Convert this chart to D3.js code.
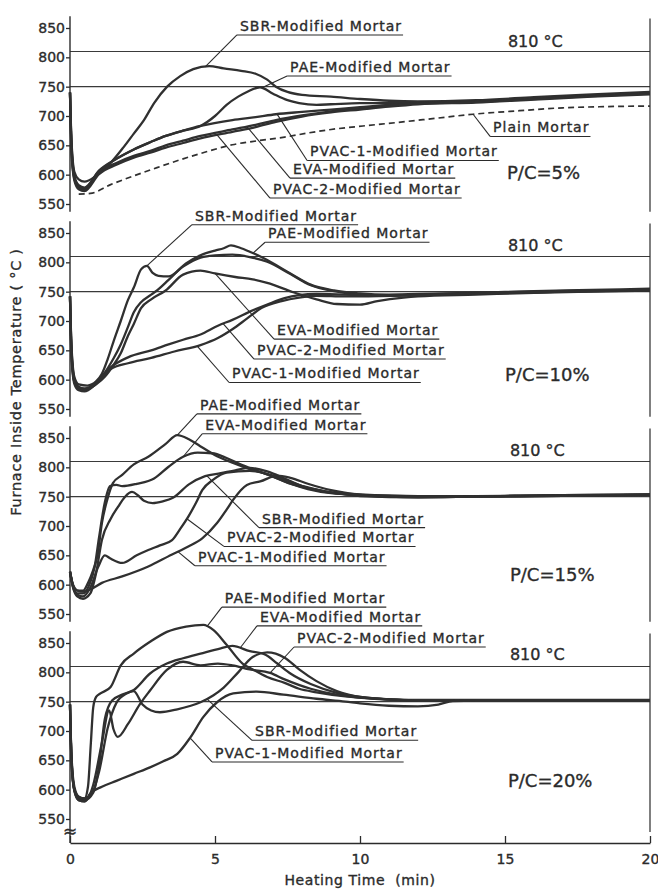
<!DOCTYPE html>
<html><head><meta charset="utf-8">
<script src="https://cdn.jsdelivr.net/npm/d3@7"></script>
<style>
body{margin:0;background:#fff;}
svg{display:block;font-family:"DejaVu Sans",sans-serif;}
svg text{stroke:#2b2b2b;stroke-width:0.35px;}
</style></head><body>
<svg id="chart" width="658" height="890"></svg>
<script>
// ---------- DATA ----------
const timeTicks = [0, 5, 10, 15, 20];
const tempTicks = [550, 600, 650, 700, 750, 800, 850];
const refLines = [810, 750];
const refLabel = "810 °C";
const ratioLabels = ["P/C=5%", "P/C=10%", "P/C=15%", "P/C=20%"];
const xTitle = "Heating Time  (min)";
const yTitle = "Furnace Inside Temperature ( °C )";

// P/C = 5 %  [time (min), temperature (°C)]
const sbr5 = [[0,740],[0.05,660],[0.15,605],[0.3,592],[0.5,588],[0.9,598],[1.4,620],[1.85,647],[2.2,670],[2.55,693],[2.9,722],[3.35,750],[3.8,768],[4.25,780],[4.8,785],[5.3,781],[5.9,777],[6.4,772],[6.8,762],[7.1,750],[7.5,741],[8.0,736],[9.0,733],[10,729],[11,726],[12,725],[14,727],[16,732],[18,737],[20,741]];
const pae5 = [[0,740],[0.05,655],[0.15,598],[0.3,582],[0.5,578],[1.0,606],[1.6,627],[2.2,643],[2.8,656],[3.3,666],[3.9,675],[4.5,683],[5.0,700],[5.4,719],[5.8,733],[6.1,741],[6.55,749],[7.0,738],[7.5,727],[7.9,722],[8.5,719],[9.0,720],[10,722],[12,722],[14,724],[16,730],[18,735],[20,739]];
const pvac1_5 = [[0,740],[0.05,650],[0.15,596],[0.3,580],[0.5,577],[1.0,607],[1.6,627],[2.2,643],[2.8,656],[3.3,666],[3.9,675],[4.5,683],[5.6,693],[6.4,698],[7.1,703],[8.0,707],[9.0,711],[10,715],[11,719],[12,722],[14,725],[16,730],[18,735],[20,739]];
const eva5 = [[0,740],[0.05,645],[0.15,593],[0.3,578],[0.5,574],[1.0,604],[1.6,620],[2.2,632],[2.8,641],[3.3,650],[3.9,658],[4.5,666],[5.6,677],[6.4,685],[7.1,693],[8.0,701],[9.0,708],[10,713],[11,718],[12,721],[14,724],[16,729],[18,734],[20,738]];
const pvac2_5 = [[0,740],[0.05,640],[0.15,590],[0.3,575],[0.5,572],[1.0,601],[1.6,617],[2.2,629],[2.8,638],[3.3,646],[3.9,654],[4.5,662],[5.6,673],[6.4,681],[7.1,690],[8.0,699],[9.0,706],[10,711],[11,716],[12,720],[14,723],[16,728],[18,733],[20,737]];
const plain5 = [[0.3,567],[0.7,568],[1.4,583],[2.2,598],[3.0,612],[3.9,627],[4.7,639],[5.6,651],[6.5,658],[7.4,664],[8.2,671],[9.0,677],[10.1,683],[11.3,689],[12.6,696],[13.9,703],[15.5,709],[17,714],[18.5,716],[20,717]];

// P/C = 10 %
const sbr10 = [[0,742],[0.05,660],[0.15,605],[0.3,592],[0.6,590],[0.9,597],[1.1,610],[1.3,635],[1.5,665],[1.75,700],[2.0,736],[2.2,757],[2.45,788],[2.65,794],[2.85,782],[3.05,777],[3.4,776],[3.9,793],[4.5,808],[5.0,812],[5.6,813],[6.2,809],[6.8,801],[7.6,780],[8.3,761],[9.1,751],[10,745],[11,743],[12,745],[14,748],[16,750],[18,752],[20,753]];
const pae10 = [[0,742],[0.05,655],[0.15,600],[0.3,588],[0.5,585],[0.9,595],[1.2,612],[1.5,636],[1.75,660],[2.0,690],[2.2,715],[2.45,732],[2.8,745],[3.0,752],[3.4,770],[4.0,798],[4.5,812],[5.0,820],[5.3,824],[5.55,829],[5.9,824],[6.3,816],[6.8,804],[7.6,781],[8.3,762],[9.1,752],[10,747],[11,745],[12,746],[14,748],[16,751],[18,753],[20,755]];
const eva10 = [[0,742],[0.05,650],[0.15,598],[0.3,585],[0.5,582],[0.9,592],[1.2,605],[1.5,625],[1.75,645],[2.0,675],[2.2,695],[2.45,722],[2.8,737],[3.3,752],[3.9,779],[4.5,786],[5.0,781],[5.7,775],[6.3,771],[6.8,765],[7.7,749],[8.5,737],[9.2,729],[10,728],[10.6,734],[11.5,740],[12,742],[14,745],[16,748],[18,750],[20,752]];
const pvac2_10 = [[0,742],[0.05,645],[0.15,596],[0.3,585],[0.5,583],[0.9,595],[1.4,621],[2.0,638],[2.8,650],[3.4,660],[3.9,668],[4.5,677],[5.1,692],[5.6,702],[6.2,716],[6.8,728],[7.4,739],[7.9,744],[8.5,746],[9.5,745],[10,744],[12,745],[14,747],[16,749],[18,751],[20,752]];
const pvac1_10 = [[0,742],[0.05,640],[0.15,593],[0.3,582],[0.5,580],[0.9,593],[1.4,618],[2.0,628],[2.8,637],[3.6,648],[4.5,659],[5.1,671],[5.6,686],[6.1,704],[6.6,722],[7.3,734],[7.9,740],[8.5,743],[9.5,742],[10,742],[12,744],[14,747],[16,749],[18,751],[20,753]];

// P/C = 15 %
const pae15 = [[0,622],[0.1,600],[0.25,590],[0.45,590],[0.62,603],[0.8,625],[0.95,650],[1.1,705],[1.28,744],[1.48,773],[1.8,787],[2.2,805],[2.7,818],[3.3,840],[3.7,855],[4.1,848],[4.49,836],[5.07,819],[5.6,808],[6.2,797],[6.8,788],[7.35,777],[7.9,768],[8.5,762],[9.0,757],[10,754],[11,752],[12,751],[14,751],[16,752],[18,753],[20,754]];
const eva15 = [[0,622],[0.1,598],[0.25,585],[0.45,585],[0.65,598],[0.85,630],[1.0,680],[1.2,740],[1.38,768],[1.6,770],[1.8,768],[2.3,772],[2.9,781],[3.4,801],[3.9,818],[4.4,825],[4.9,824],[5.4,816],[5.8,807],[6.4,795],[7.0,784],[7.6,772],[8.2,763],[9.0,756],[10,753],[12,750],[14,750],[16,751],[18,752],[20,753]];
const sbr15 = [[0,622],[0.1,596],[0.25,580],[0.45,576],[0.7,585],[0.9,620],[1.1,676],[1.4,712],[1.66,733],[1.9,750],[2.14,758],[2.35,752],[2.55,743],[2.85,739],[3.2,742],[3.55,748],[4.1,771],[4.66,785],[5.2,790],[5.7,795],[6.2,799],[6.8,793],[7.4,781],[8.0,768],[8.6,760],[9.2,756],[10,752],[12,750],[14,751],[16,752],[18,753],[20,754]];
const pvac2_15 = [[0,622],[0.1,597],[0.25,583],[0.45,580],[0.7,595],[0.97,630],[1.2,650],[1.38,645],[1.8,637],[2.3,650],[2.7,659],[3.1,667],[3.52,676],[3.8,695],[4.08,716],[4.35,740],[4.56,761],[4.94,779],[5.4,791],[6.2,794],[6.8,789],[7.4,779],[8.1,767],[8.8,759],[9.5,754],[10,751],[12,749],[14,750],[16,751],[18,752],[20,753]];
const pvac1_15 = [[0,622],[0.1,600],[0.25,590],[0.45,588],[0.7,592],[1.1,603],[1.8,614],[2.7,631],[3.5,651],[4.08,665],[4.56,679],[5.07,705],[5.4,728],[5.63,745],[6.1,770],[6.56,776],[7.15,786],[7.6,782],[8.2,772],[9.0,761],[10,753],[11,750],[12,749],[14,750],[16,751],[18,752],[20,753]];

// P/C = 20 %
const pae20 = [[0,745],[0.05,660],[0.15,605],[0.3,588],[0.5,585],[0.62,605],[0.72,680],[0.8,740],[0.9,758],[1.05,764],[1.4,775],[1.75,812],[2.2,832],[2.76,852],[3.34,869],[4.0,878],[4.6,881],[4.95,872],[5.4,847],[5.95,815],[6.3,805],[6.8,792],[7.4,782],[7.9,772],[8.5,766],[9.5,759],[10.5,755],[12,752],[14,752],[16,752],[18,752],[20,752]];
const eva20 = [[0,745],[0.05,655],[0.15,600],[0.3,585],[0.5,582],[0.8,595],[1.0,640],[1.2,720],[1.45,752],[1.8,762],[2.2,770],[2.76,798],[3.34,815],[3.9,824],[4.5,832],[5.2,841],[5.6,845],[6.2,836],[6.7,831],[7.15,815],[7.6,798],[8.3,780],[9.2,765],[10,758],[11,754],[12,753],[14,753],[16,753],[18,753],[20,753]];
const pvac2_20 = [[0,745],[0.05,650],[0.15,598],[0.3,582],[0.5,580],[0.8,608],[1.1,680],[1.35,735],[1.5,703],[1.65,690],[2.0,712],[2.4,745],[2.76,769],[3.34,804],[3.9,818],[4.5,812],[5.1,815],[5.6,812],[6.2,805],[6.9,799],[7.4,788],[8.3,772],[9.2,762],[10,757],[11,754],[12,752],[14,752],[16,752],[18,752],[20,752]];
const sbr20 = [[0,745],[0.05,655],[0.15,600],[0.3,588],[0.5,585],[0.8,598],[1.0,630],[1.3,705],[1.6,748],[1.95,764],[2.2,768],[2.5,745],[2.8,735],[3.1,732],[3.7,737],[4.5,749],[4.95,761],[5.3,774],[5.8,800],[6.3,826],[6.8,834],[7.4,825],[7.9,805],[8.5,785],[9.2,768],[10,758],[11,754],[12,752],[14,752],[16,752],[18,752],[20,752]];
const pvac1_20 = [[0,745],[0.05,650],[0.15,598],[0.3,582],[0.5,580],[0.69,593],[1.1,605],[1.6,615],[2.2,627],[2.76,638],[3.2,648],[3.7,661],[4.15,689],[4.6,724],[5.07,749],[5.63,764],[6.44,767],[7.36,762],[8.5,755],[9.5,750],[10,747],[11,743],[12,742],[12.7,745],[13.2,751],[14,752],[16,752],[18,752],[20,752]];

// series names
const names = {
  SBR: "SBR-Modified Mortar", PAE: "PAE-Modified Mortar", EVA: "EVA-Modified Mortar",
  PVAC1: "PVAC-1-Modified Mortar", PVAC2: "PVAC-2-Modified Mortar", PLAIN: "Plain Mortar"
};

// label annotations: text anchor (time, temp) and time at which the leader meets the curve
const panels = [
  { ratio: ratioLabels[0], refText: [15.1, 818], ratioText: [15.07, 593],
    series: [["SBR", sbr5], ["PAE", pae5], ["PVAC1", pvac1_5], ["EVA", eva5], ["PVAC2", pvac2_5], ["PLAIN", plain5]],
    labels: [["SBR",5.86,845,4.66],["PAE",7.59,775,6.6],["PLAIN",14.59,672,13.9],["PVAC1",8.28,631,7.14],["EVA",7.69,601,6.1],["PVAC2",7.0,567,5.07]] },
  { ratio: ratioLabels[1], refText: [15.1, 819], ratioText: [15.0, 598],
    series: [["SBR", sbr10], ["PAE", pae10], ["EVA", eva10], ["PVAC2", pvac2_10], ["PVAC1", pvac1_10]],
    labels: [["SBR",4.31,871,2.65],["PAE",6.83,841,6.31],["EVA",7.14,676,5.0],["PVAC2",6.45,642,5.28],["PVAC1",5.59,602,4.38]] },
  { ratio: ratioLabels[2], refText: [15.17, 818.5], ratioText: [15.17, 607],
    series: [["PAE", pae15], ["EVA", eva15], ["SBR", sbr15], ["PVAC2", pvac2_15], ["PVAC1", pvac1_15]],
    labels: [["PAE",4.48,898,3.7],["EVA",4.66,864,3.9],["SBR",6.62,704,4.72],["PVAC2",5.41,672,4.03],["PVAC1",4.41,639,3.72]] },
  { ratio: ratioLabels[3], refText: [15.17, 821], ratioText: [15.1, 605],
    series: [["PAE", pae20], ["EVA", eva20], ["PVAC2", pvac2_20], ["SBR", sbr20], ["PVAC1", pvac1_20]],
    labels: [["PAE",5.34,918,4.72],["EVA",6.55,886,5.86],["PVAC2",7.83,850,6.9],["SBR",6.38,691,4.72],["PVAC1",5.0,654,4.14]] }
];

// ---------- DRAW ----------
const svg = d3.select("#chart");
const ink = "#2b2b2b";
const x = d3.scaleLinear().domain([0, 20]).range([70, 650]);
const tops = [28, 233, 438, 643], ph = 176;
const xAxisY = 843;

function interp(data, t) {
  const i = d3.bisector(d => d[0]).left(data, t);
  if (i <= 0) return data[0][1];
  if (i >= data.length) return data[data.length - 1][1];
  const a = data[i - 1], b = data[i];
  return a[1] + (b[1] - a[1]) * (t - a[0]) / (b[0] - a[0]);
}

panels.forEach((p, i) => {
  const y = d3.scaleLinear().domain([550, 850]).range([tops[i] + ph, tops[i]]);
  const g = svg.append("g");

  // reference lines 810 / 750
  g.selectAll(".ref").data(refLines).enter().append("line")
    .attr("x1", x(0)).attr("x2", x(20))
    .attr("y1", d => y(d)).attr("y2", d => y(d))
    .attr("stroke", "#3a3a3a").attr("stroke-width", 1.1);

  // left axis
  const ga = g.append("g").attr("transform", `translate(${x(0)},0)`)
    .call(d3.axisLeft(y).tickValues(tempTicks).tickSize(4).tickPadding(1));
  ga.select(".domain").remove();
  ga.selectAll("line").attr("stroke", ink).attr("stroke-width", 1.3);
  ga.selectAll("text").attr("font-size", 14).attr("fill", ink)
    .attr("font-family", "DejaVu Sans");
  g.append("line").attr("x1", x(0)).attr("x2", x(0))
    .attr("y1", y(870)).attr("y2", i === 3 ? xAxisY : y(537))
    .attr("stroke", ink).attr("stroke-width", 1.4);
  // right border
  g.append("line").attr("x1", x(20)).attr("x2", x(20))
    .attr("y1", y(866)).attr("y2", i === 3 ? y(528) : y(537))
    .attr("stroke", ink).attr("stroke-width", 1.2);

  // curves
  const line = d3.line().x(d => x(d[0])).y(d => y(d[1])).curve(d3.curveMonotoneX);
  p.series.forEach(([key, data]) => {
    g.append("path").datum(data).attr("d", line)
      .attr("fill", "none").attr("stroke", "#303030")
      .attr("stroke-width", key === "PLAIN" ? 1.7 : 2.3)
      .attr("stroke-dasharray", key === "PLAIN" ? "6,4" : null)
      .attr("stroke-linejoin", "round");
  });

  // labels with underline and leader
  const seriesMap = new Map(p.series);
  p.labels.forEach(([key, lt, lT, at]) => {
    const tx = x(lt), ty = y(lT);
    const t = g.append("text").attr("x", tx).attr("y", ty)
      .attr("font-size", 14).attr("letter-spacing", 1).attr("fill", ink)
      .text(names[key]);
    const w = t.node().getBBox().width;
    const uy = ty + 4;
    g.append("line").attr("x1", tx - 3).attr("x2", tx + w + 1)
      .attr("y1", uy).attr("y2", uy).attr("stroke", ink).attr("stroke-width", 1.1);
    const data = seriesMap.get(key);
    g.append("line").attr("x1", tx - 3).attr("y1", uy)
      .attr("x2", x(at)).attr("y2", y(interp(data, at)))
      .attr("stroke", ink).attr("stroke-width", 1.1);
  });

  g.append("text").attr("x", x(p.refText[0])).attr("y", y(p.refText[1]))
    .attr("font-size", 16).attr("fill", ink).text(refLabel);
  g.append("text").attr("x", x(p.ratioText[0])).attr("y", y(p.ratioText[1]))
    .attr("font-size", 18).attr("fill", ink).text(p.ratio);

  if (i === 3) {
    // axis break mark
    g.append("text").attr("x", x(0)).attr("y", y(550) + 18)
      .attr("text-anchor", "middle").attr("font-size", 17).attr("fill", ink).text("≈");
  }
});

// bottom axis
const gx = svg.append("g").attr("transform", `translate(0,${xAxisY})`)
  .call(d3.axisBottom(x).tickValues(timeTicks).tickSizeInner(-7).tickSizeOuter(0).tickPadding(11));
gx.select(".domain").attr("stroke", ink).attr("stroke-width", 1.4);
gx.selectAll("line").attr("stroke", ink).attr("stroke-width", 1.3);
gx.selectAll("text").attr("font-size", 14).attr("fill", ink).attr("font-family", "DejaVu Sans");

svg.append("text").attr("x", 360).attr("y", 885).attr("text-anchor", "middle")
  .attr("font-size", 14).attr("letter-spacing", 0.6).attr("fill", ink)
  .style("white-space", "pre").text(xTitle);

svg.append("text").attr("transform", "translate(21,382) rotate(-90)")
  .attr("text-anchor", "middle").attr("font-size", 14.5).attr("letter-spacing", 0.7)
  .attr("fill", ink).text(yTitle);
</script>
</body></html>
